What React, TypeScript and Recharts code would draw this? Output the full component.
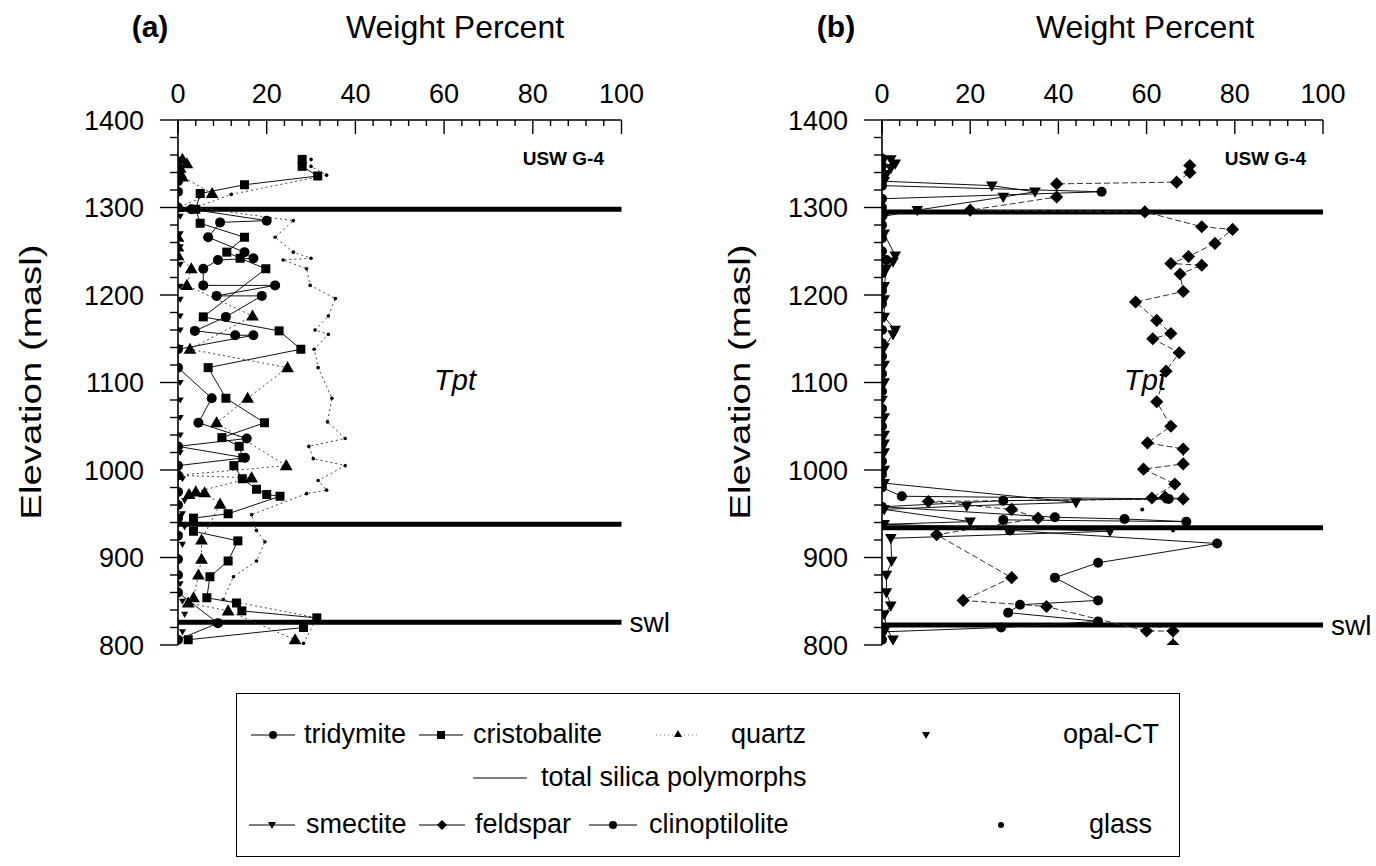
import React from 'react';
import { ScatterChart, Scatter, XAxis, YAxis, ReferenceLine } from 'recharts';

// ---------- axis ticks ----------
const xTickValues = [0, 4, 8, 12, 16, 20, 24, 28, 32, 36, 40, 44, 48, 52, 56, 60, 64, 68, 72, 76, 80, 84, 88, 92, 96, 100];
const xTickLabels = [0, 20, 40, 60, 80, 100];
const yTickValues = [800, 820, 840, 860, 880, 900, 920, 940, 960, 980, 1000, 1020, 1040, 1060, 1080, 1100, 1120, 1140, 1160, 1180, 1200, 1220, 1240, 1260, 1280, 1300, 1320, 1340, 1360, 1380, 1400];
const yTickLabels = [800, 900, 1000, 1100, 1200, 1300, 1400];

// ---------- contacts (thick lines) ----------
const contactsA = [1298, 938, 826];
const contactsB = [1295, 934, 823];

// ---------- panel (a): silica polymorphs, [weight %, elevation] ----------
const tridymite = [
  [0, 1352], [0, 1340], [0, 1330], [0, 1318], [0, 1300], [3, 1298], [20, 1285], [9.5, 1283], [6.8, 1266],
  [15, 1249], [17, 1242], [9, 1240], [5.7, 1230], [5.7, 1211], [21.9, 1211], [8.7, 1199], [18.9, 1199],
  [10.8, 1175], [3.8, 1159], [12.9, 1154], [17, 1154], [0, 1138], [0, 1117], [7.6, 1082], [4.6, 1054],
  [15.5, 1036], [0, 1027], [15.1, 1014], [0, 1005], [0, 994], [0, 975], [0, 960], [0, 945], [0, 925],
  [0, 898], [0, 880], [0, 860], [9, 825], [0, 806],
];
const cristobalite = [
  [28, 1355], [28, 1347], [31.5, 1336], [15, 1326], [5, 1316], [4, 1298], [5, 1282], [15, 1266], [11, 1249],
  [14, 1242], [19.8, 1230], [5.7, 1175], [22.8, 1159], [27.7, 1138], [6.8, 1117], [10.8, 1082], [19.5, 1054],
  [9.9, 1037], [13.8, 1027], [14.6, 1014], [12.6, 1005], [14.5, 990], [17.7, 978], [20, 972], [23, 970],
  [11.3, 950], [3.5, 945], [3.5, 930], [13.5, 919], [11.3, 896], [7.2, 878], [6.5, 854], [13.2, 848],
  [14.4, 839], [31.3, 831], [28.3, 820], [2.3, 806],
];
const quartz = [
  [1, 1355], [2, 1350], [0.5, 1345], [1, 1335], [7.7, 1316], [0, 1300], [0, 1266], [0, 1255], [0, 1245],
  [3, 1230], [2, 1211], [16.8, 1176], [2.7, 1138], [24.7, 1117], [15.7, 1082], [8.7, 1054], [24.4, 1005],
  [0, 994], [16.6, 991], [4, 975], [2.5, 972], [6, 974], [9.5, 961], [5.3, 920], [5.3, 898], [4.6, 880],
  [3.5, 854], [2.3, 848], [11.3, 839], [26.4, 806],
];
const opalCT = [
  [0.5, 1355], [0.5, 1345], [0.5, 1290], [0.5, 1270], [0.5, 1255], [0.5, 1235], [0.5, 1210], [0.5, 1195],
  [0.5, 1176], [0.5, 1160], [0.5, 1140], [0.5, 1100], [0.5, 1080], [0.5, 1060], [0.5, 1040], [0.5, 1020],
  [1, 990], [1.5, 965], [1, 950], [1.5, 935], [1, 915], [0.5, 870], [1, 850], [1.5, 835], [1, 815],
];
const totalSilica = [
  [30, 1355], [30, 1347], [33.5, 1337], [12, 1315], [4, 1300], [26, 1285], [21.9, 1266], [26, 1249],
  [30, 1242], [23.7, 1240], [29, 1230], [29.8, 1211], [35.5, 1196], [33.9, 1176], [30.9, 1160], [33.9, 1155],
  [30.7, 1138], [31.6, 1117], [34.7, 1082], [33.7, 1055], [37.7, 1036], [29.5, 1027], [30.5, 1013],
  [37.7, 1005], [31.6, 988], [33.5, 977], [29, 973], [16.6, 949], [17.7, 931], [19.6, 918], [17.7, 896],
  [12.5, 878], [10.2, 852], [31.3, 831], [28.3, 802],
];

// ---------- panel (b): other phases ----------
const smectite = [
  [2, 1355], [3, 1350], [2, 1345], [1, 1338], [0.5, 1330], [24.9, 1325], [34.7, 1318], [27.5, 1312],
  [8, 1297], [0.5, 1290], [0.5, 1270], [3, 1245], [2.5, 1238], [1, 1230], [0.5, 1210], [0.5, 1195],
  [0.5, 1175], [3, 1160], [2.5, 1155], [0.5, 1140], [0.5, 1120], [0.5, 1100], [0, 1080], [0.5, 1060],
  [0.5, 1040], [0.5, 1030], [0.5, 1020], [0.5, 1000], [0.5, 985], [44, 963], [19.2, 959], [0.5, 955],
  [20, 941], [0.5, 938], [51.7, 930], [2, 922], [2.2, 896], [1, 880], [1, 860], [2, 845], [0.5, 835],
  [1, 820], [2.5, 806],
];
const feldspar = [
  [69.8, 1348], [69.8, 1340], [66.8, 1329], [39.6, 1327], [39.6, 1312], [20, 1297], [59.6, 1295],
  [72.5, 1278], [79.5, 1275], [75.5, 1259], [69.5, 1244], [65.5, 1236], [72.5, 1234], [67.6, 1224],
  [68.3, 1204], [57.5, 1192], [62.3, 1171], [65.5, 1156], [61.4, 1150], [67.4, 1134], [64.4, 1113],
  [62.3, 1078], [65.5, 1050], [60.2, 1031], [68.3, 1024], [68.3, 1007], [59.3, 1001], [66.4, 984],
  [61.2, 968], [64.2, 969], [68.3, 967], [10.5, 964], [29.4, 955], [35.4, 945], [12.4, 926], [29.4, 877],
  [18.4, 851], [37.3, 844], [60, 816], [66, 816], [66, 800],
];
const clinoptilolite = [
  [0, 1356], [0, 1348], [0, 1340], [0, 1333], [0, 1325], [49.8, 1318], [0, 1310], [0, 1300], [0, 1290],
  [0, 1280], [0, 1265], [0, 1250], [1, 1240], [0, 1225], [0, 1205], [0, 1190], [0, 1175], [0, 1160],
  [0, 1145], [0, 1130], [0, 1110], [0, 1090], [0, 1070], [0, 1050], [0, 1030], [0, 1010], [0, 995],
  [0, 980], [4.5, 970], [65, 967], [27.5, 965], [0, 958], [39.2, 946], [55, 944], [69, 941], [27.5, 943],
  [29, 931], [76, 916], [49, 894], [39.2, 877], [49, 851], [31.3, 846], [28.6, 837], [49, 827], [27, 820],
  [0, 815], [0, 806],
];
const glass = [[59, 955], [66, 931], [63, 822]];

const toPts = (arr: number[][]) => arr.map(([x, y]) => ({ x, y }));

const FONT = '"Liberation Sans", Arial, Helvetica, sans-serif';

// ---------- marker shapes ----------
const circleShape = (r: number) => (p: any) => <circle cx={p.cx} cy={p.cy} r={r} fill="#000" />;
const squareShape = (s: number) => (p: any) => <rect x={p.cx - s / 2} y={p.cy - s / 2} width={s} height={s} fill="#000" />;
const triShape = (s: number) => (p: any) => (
  <polygon points={`${p.cx},${p.cy - s * 0.6} ${p.cx - s * 0.58},${p.cy + s * 0.42} ${p.cx + s * 0.58},${p.cy + s * 0.42}`} fill="#000" />
);
const downTriShape = (s: number) => (p: any) => (
  <polygon points={`${p.cx},${p.cy + s * 0.6} ${p.cx - s * 0.58},${p.cy - s * 0.42} ${p.cx + s * 0.58},${p.cy - s * 0.42}`} fill="#000" />
);
const diamondShape = (s: number) => (p: any) => (
  <polygon points={`${p.cx},${p.cy - s * 0.6} ${p.cx + s * 0.6},${p.cy} ${p.cx},${p.cy + s * 0.6} ${p.cx - s * 0.6},${p.cy}`} fill="#000" />
);

// ---------- ticks ----------
const XTick = (props: any) => {
  const { x, y, payload } = props;
  const major = xTickLabels.includes(payload.value);
  return (
    <g>
      <line x1={x} x2={x} y1={y} y2={y + (major ? 14 : 6)} stroke="#000" strokeWidth={1.4} />
      {major && (
        <text x={x} y={y - 17} textAnchor="middle" fontSize={27} fontFamily={FONT} fill="#000">
          {payload.value}
        </text>
      )}
    </g>
  );
};
const YTick = (props: any) => {
  const { x, y, payload } = props;
  const major = yTickLabels.includes(payload.value);
  return (
    <g>
      <line x1={x} x2={x - (major ? 18 : 8)} y1={y} y2={y} stroke="#000" strokeWidth={1.4} />
      {major && (
        <text x={x - 34} y={y + 9.5} textAnchor="end" fontSize={27} fontFamily={FONT} fill="#000">
          {payload.value}
        </text>
      )}
    </g>
  );
};

const thinLine = { stroke: '#111', strokeWidth: 1 };
const dotLine = { stroke: '#444', strokeWidth: 1, strokeDasharray: '2 3' };
const dashLine = { stroke: '#333', strokeWidth: 1, strokeDasharray: '6 3' };

type PanelProps = {
  left: number;
  width: number;
  marginLeft: number;
  marginRight: number;
  contacts: number[];
  children: React.ReactNode;
};

const Panel = ({ left, width, marginLeft, marginRight, contacts, children }: PanelProps) => (
  <div style={{ position: 'absolute', left, top: 0 }}>
    <ScatterChart width={width} height={700} margin={{ top: 60, left: marginLeft, right: marginRight, bottom: 55 }}>
      <XAxis
        type="number"
        dataKey="x"
        orientation="top"
        domain={[0, 100]}
        ticks={xTickValues}
        interval={0}
        allowDataOverflow
        height={60}
        tickSize={0}
        tickMargin={0}
        tickLine={false}
        tick={<XTick />}
        axisLine={{ stroke: '#000', strokeWidth: 1.6 }}
      />
      <YAxis
        type="number"
        dataKey="y"
        domain={[800, 1400]}
        ticks={yTickValues}
        interval={0}
        allowDataOverflow
        width={100}
        tickSize={0}
        tickMargin={0}
        tickLine={false}
        tick={<YTick />}
        axisLine={{ stroke: '#000', strokeWidth: 1.6 }}
      />
      {children}
      {contacts.map((c, i) => (
        <ReferenceLine
          key={c}
          y={c}
          stroke="#000"
          strokeWidth={5}
          label={i === contacts.length - 1 ? { value: 'swl', position: 'right', fontSize: 28, fill: '#000', fontFamily: FONT, offset: 8 } : undefined}
        />
      ))}
    </ScatterChart>
  </div>
);

const textStyle: React.CSSProperties = {
  position: 'absolute',
  fontFamily: FONT,
  color: '#000',
  whiteSpace: 'nowrap',
  lineHeight: 1,
};

// ---------- legend ----------
const LegendSym = ({ kind, left, width, line }: { kind: string; left: number; width: number; line: 'solid' | 'dotted' | 'none' }) => {
  const c = width / 2;
  let m: React.ReactNode = null;
  if (kind === 'circle') m = <circle cx={c} cy={12} r={4} fill="#000" />;
  if (kind === 'square') m = <rect x={c - 4} y={8} width={8} height={8} fill="#000" />;
  if (kind === 'tri') m = <polygon points={`${c},7 ${c - 4},14 ${c + 4},14`} fill="#000" />;
  if (kind === 'down') m = <polygon points={`${c},16 ${c - 4},9 ${c + 4},9`} fill="#000" />;
  if (kind === 'diamond') m = <polygon points={`${c},7 ${c + 5},12 ${c},17 ${c - 5},12`} fill="#000" />;
  if (kind === 'dot') m = <circle cx={c} cy={12} r={3} fill="#000" />;
  return (
    <svg width={width} height={24} style={{ position: 'absolute', left, top: -12 }}>
      {line === 'solid' && <line x1={0} x2={width} y1={12} y2={12} stroke="#000" strokeWidth={1.2} />}
      {line === 'dotted' && <line x1={0} x2={width} y1={12} y2={12} stroke="#888" strokeWidth={1} strokeDasharray="1 3" />}
      {m}
    </svg>
  );
};

type LegendEntry = { kind: string; label: string; symX: number; symW: number; textX: number; line: 'solid' | 'dotted' | 'none' };

const legendRow1: LegendEntry[] = [
  { kind: 'circle', label: 'tridymite', symX: 250, symW: 44, textX: 303, line: 'solid' },
  { kind: 'square', label: 'cristobalite', symX: 418, symW: 44, textX: 472, line: 'solid' },
  { kind: 'tri', label: 'quartz', symX: 655, symW: 44, textX: 730, line: 'dotted' },
  { kind: 'down', label: 'opal-CT', symX: 903, symW: 44, textX: 1062, line: 'none' },
];
const legendRow2: LegendEntry[] = [
  { kind: 'none', label: 'total silica polymorphs', symX: 472, symW: 54, textX: 540, line: 'solid' },
];
const legendRow3: LegendEntry[] = [
  { kind: 'down', label: 'smectite', symX: 248, symW: 46, textX: 305, line: 'solid' },
  { kind: 'diamond', label: 'feldspar', symX: 418, symW: 46, textX: 474, line: 'solid' },
  { kind: 'circle', label: 'clinoptilolite', symX: 588, symW: 48, textX: 648, line: 'solid' },
  { kind: 'dot', label: 'glass', symX: 980, symW: 40, textX: 1088, line: 'none' },
];

const LEGEND_LEFT = 236;
const LegendRow = ({ entries, y }: { entries: LegendEntry[]; y: number }) => (
  <div style={{ position: 'absolute', left: 0, top: y, width: '100%', height: 0 }}>
    {entries.map((e) => (
      <React.Fragment key={e.label}>
        <LegendSym kind={e.kind} left={e.symX - LEGEND_LEFT} width={e.symW} line={e.line} />
        <div style={{ ...textStyle, left: e.textX - LEGEND_LEFT, top: -14, fontSize: 27 }}>{e.label}</div>
      </React.Fragment>
    ))}
  </div>
);

export default function App() {
  return (
    <div style={{ position: 'relative', width: 1376, height: 866, background: '#fff', overflow: 'hidden' }}>
      <style>{'body{margin:0;background:#fff}'}</style>

      <Panel left={0} width={700} marginLeft={78} marginRight={78.5} contacts={contactsA}>
        <Scatter data={toPts(totalSilica)} line={dotLine} shape={circleShape(1.8)} isAnimationActive={false} />
        <Scatter data={toPts(quartz)} line={dotLine} shape={triShape(11)} isAnimationActive={false} />
        <Scatter data={toPts(opalCT)} shape={downTriShape(6)} isAnimationActive={false} />
        <Scatter data={toPts(cristobalite)} line={thinLine} shape={squareShape(9)} isAnimationActive={false} />
        <Scatter data={toPts(tridymite)} line={thinLine} shape={circleShape(5)} isAnimationActive={false} />
      </Panel>

      <Panel left={700} width={676} marginLeft={82} marginRight={53} contacts={contactsB}>
        <Scatter data={toPts(glass)} shape={circleShape(2)} isAnimationActive={false} />
        <Scatter data={toPts(feldspar)} line={dashLine} shape={diamondShape(11)} isAnimationActive={false} />
        <Scatter data={toPts(clinoptilolite)} line={thinLine} shape={circleShape(5)} isAnimationActive={false} />
        <Scatter data={toPts(smectite)} line={thinLine} shape={downTriShape(10)} isAnimationActive={false} />
      </Panel>

      {/* titles */}
      <div style={{ ...textStyle, left: 150, top: 27, fontSize: 30, fontWeight: 'bold', transform: 'translate(-50%,-50%)' }}>(a)</div>
      <div style={{ ...textStyle, left: 455, top: 27, fontSize: 32, transform: 'translate(-50%,-50%)' }}>Weight Percent</div>
      <div style={{ ...textStyle, left: 836, top: 27, fontSize: 30, fontWeight: 'bold', transform: 'translate(-50%,-50%)' }}>(b)</div>
      <div style={{ ...textStyle, left: 1145, top: 27, fontSize: 32, transform: 'translate(-50%,-50%)' }}>Weight Percent</div>

      <div style={{ ...textStyle, left: 604, top: 158, fontSize: 19, fontWeight: 'bold', transform: 'translate(-100%,-50%)' }}>USW G-4</div>
      <div style={{ ...textStyle, left: 1306, top: 158, fontSize: 19, fontWeight: 'bold', transform: 'translate(-100%,-50%)' }}>USW G-4</div>

      <div style={{ ...textStyle, left: 455, top: 380, fontSize: 29, fontStyle: 'italic', transform: 'translate(-50%,-50%)' }}>Tpt</div>
      <div style={{ ...textStyle, left: 1145, top: 380, fontSize: 29, fontStyle: 'italic', transform: 'translate(-50%,-50%)' }}>Tpt</div>

      <div style={{ ...textStyle, left: 31, top: 382, fontSize: 30, transform: 'translate(-50%,-50%) rotate(-90deg) scaleX(1.28)' }}>Elevation (masl)</div>
      <div style={{ ...textStyle, left: 740, top: 382, fontSize: 30, transform: 'translate(-50%,-50%) rotate(-90deg) scaleX(1.28)' }}>Elevation (masl)</div>

      {/* legend */}
      <div
        style={{
          position: 'absolute',
          left: LEGEND_LEFT,
          top: 693,
          width: 944,
          height: 164,
          border: '1.5px solid #000',
          boxSizing: 'border-box',
          fontFamily: FONT,
        }}
      >
        <LegendRow entries={legendRow1} y={41} />
        <LegendRow entries={legendRow2} y={84} />
        <LegendRow entries={legendRow3} y={131} />
      </div>
    </div>
  );
}
